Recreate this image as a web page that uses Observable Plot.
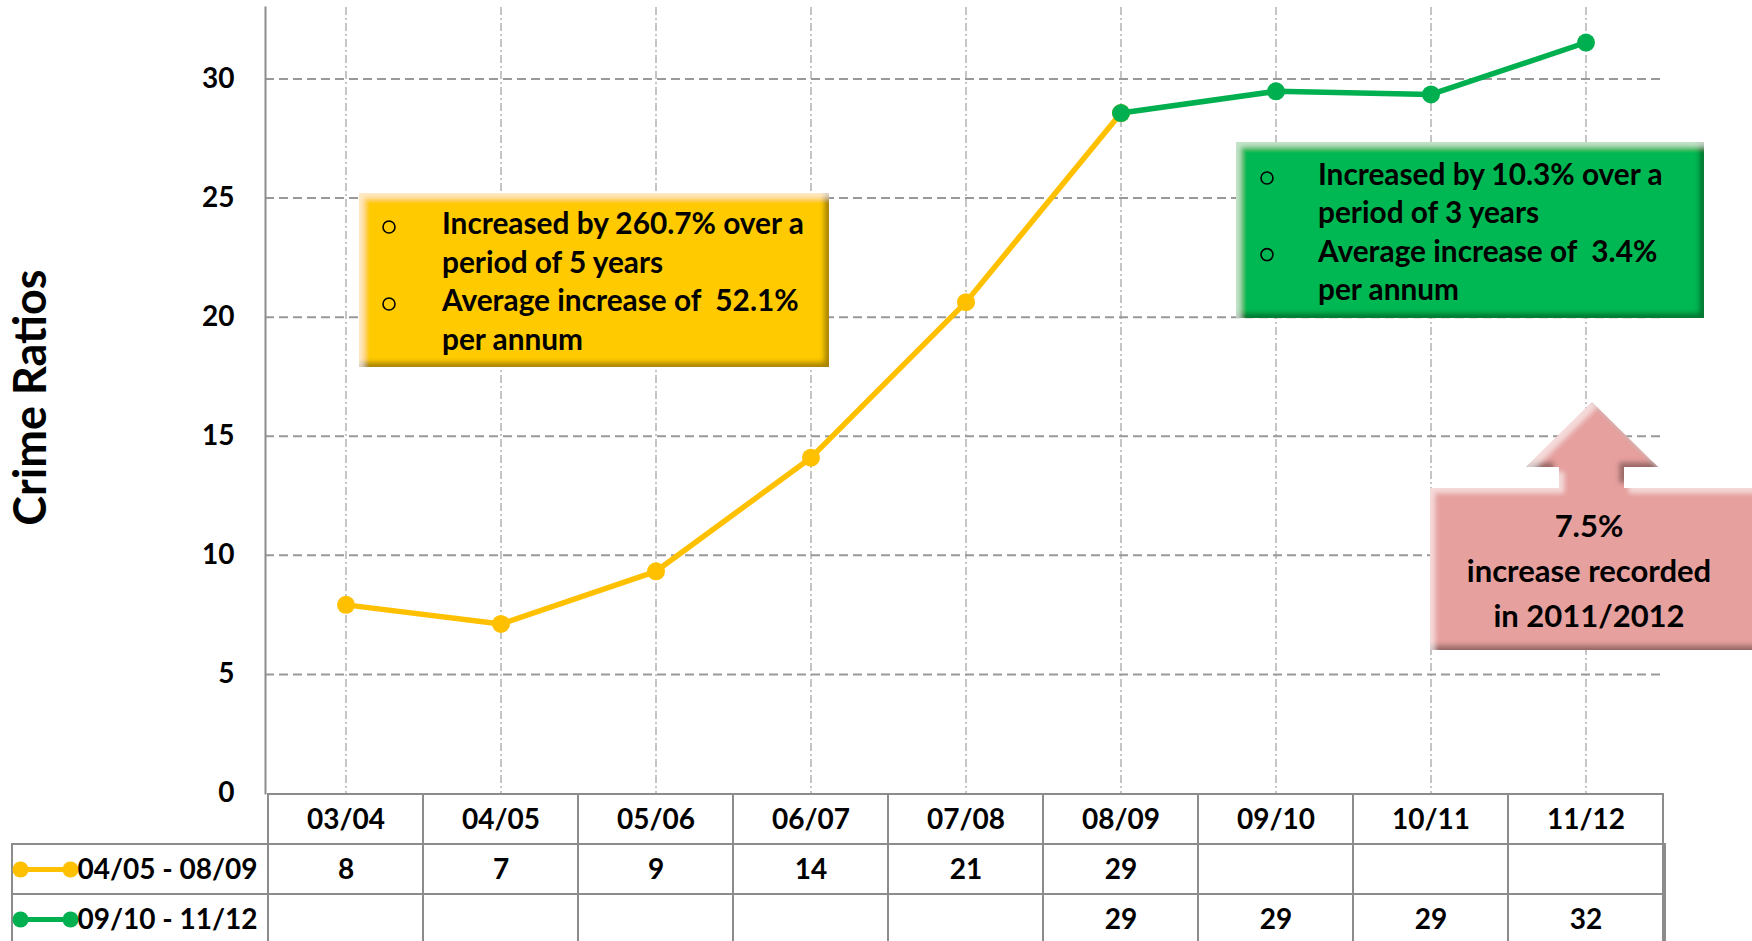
<!DOCTYPE html>
<html><head><meta charset="utf-8">
<script src="https://cdn.jsdelivr.net/npm/d3@7"></script>
<script src="https://cdn.jsdelivr.net/npm/@observablehq/plot@0.6"></script>
<style>
html,body{margin:0;padding:0;background:#fff;}
#wrap{position:relative;width:1752px;height:941px;overflow:hidden;background:#fff;font-family:Lato,sans-serif;}
#chart,#table,#notes{position:absolute;left:0;}
#chart{top:0;z-index:2}
#table{top:792px;z-index:1}
#notes{top:0;z-index:3;pointer-events:none;overflow:visible}
#notes text{white-space:pre;font-family:Lato,sans-serif;font-weight:700;fill:#000}
</style></head><body>
<div id="wrap"><div id="table"></div><div id="chart"></div><svg id="notes" width="1752" height="941"></svg></div>
<script>
// ---- data ----
const years = ["03/04","04/05","05/06","06/07","07/08","08/09","09/10","10/11","11/12"];
const seriesNames = ["04/05 - 08/09","09/10 - 11/12"];
const seriesColors = ["#FFC000","#00B050"];
const yellowYears = ["03/04","04/05","05/06","06/07","07/08","08/09"];
const yellowValues = [7.92, 7.12, 9.33, 14.1, 20.63, 28.57];
const greenYears = ["08/09","09/10","10/11","11/12"];
const greenValues = [28.57, 29.48, 29.35, 31.53];
const yellowTable = [8, 7, 9, 14, 21, 29];
const greenTable = [29, 29, 29, 32];
const yTicks = [0, 5, 10, 15, 20, 25, 30];
const yTitle = "Crime Ratios";
const yellowNote = ["Increased by 260.7% over a", "period of 5 years", "Average increase of  52.1%", "per annum"];
const greenNote = ["Increased by 10.3% over a", "period of 3 years", "Average increase of  3.4%", "per annum"];
const pinkNote = ["7.5%", "increase recorded", "in 2011/2012"];

// ---- derived tables ----
const yellowData = yellowYears.map((year, i) => ({year, value: yellowValues[i]}));
const greenData = greenYears.map((year, i) => ({year, value: greenValues[i]}));
const rowKeys = ["header", ...seriesNames];
const cells = [];
years.forEach(y => cells.push({year: y, row: "header", label: y}));
years.forEach(y => { const i = yellowYears.indexOf(y); cells.push({year: y, row: seriesNames[0], label: i >= 0 ? String(yellowTable[i]) : ""}); });
years.forEach(y => { const i = greenYears.indexOf(y); cells.push({year: y, row: seriesNames[1], label: i >= 0 ? String(greenTable[i]) : ""}); });
const legend = seriesNames.map((name, i) => ({name, color: seriesColors[i]}));

const FONT = "Lato, sans-serif";

// ---- main chart ----
const chart = Plot.plot({
  width: 1752, height: 793,
  marginLeft: 265, marginRight: 87, marginTop: 7, marginBottom: 0,
  style: {background: "transparent", overflow: "visible", fontFamily: FONT, fontWeight: 700, color: "#000"},
  x: {type: "band", domain: years, padding: 0, axis: null},
  y: {domain: [0, 33], axis: null},
  marks: [
    Plot.ruleX(years, {x: d => d, stroke: "#b3b3b3", strokeWidth: 1.5, strokeDasharray: "8,3,2,3"}),
    Plot.ruleY(yTicks.filter(t => t > 0), {y: d => d, stroke: "#999", strokeWidth: 2, strokeDasharray: "9,5"}),
    Plot.frame({anchor: "left", stroke: "#8c8c8c", strokeWidth: 2}),
    Plot.axisY({ticks: yTicks, tickSize: 0, tickPadding: 31, fontSize: 28, fontWeight: 700, label: null, fill: "#000"}),
    Plot.text([yTitle], {text: d => d, frameAnchor: "left", textAnchor: "middle", rotate: -90, dx: -234, dy: -3, fontSize: 45, fontWeight: 700, fill: "#000"}),
    Plot.line(yellowData, {x: "year", y: "value", stroke: seriesColors[0], strokeWidth: 5.5}),
    Plot.dot(yellowData, {x: "year", y: "value", r: 9, fill: seriesColors[0]}),
    Plot.line(greenData, {x: "year", y: "value", stroke: seriesColors[1], strokeWidth: 5.5}),
    Plot.dot(greenData, {x: "year", y: "value", r: 9, fill: seriesColors[1]})
  ]
});
document.getElementById("chart").appendChild(chart);

// ---- data table below ----
const table = Plot.plot({
  width: 1752, height: 153,
  marginLeft: 265, marginRight: 87, marginTop: 1, marginBottom: 0,
  style: {background: "transparent", overflow: "visible", fontFamily: FONT, fontWeight: 700, color: "#000"},
  x: {type: "band", domain: years, padding: 0, axis: null},
  y: {type: "band", domain: rowKeys, padding: 0, axis: null},
  color: {type: "identity"},
  marks: [
    Plot.cell(cells, {x: "year", y: "row", fill: "white", stroke: "#8c8c8c", strokeWidth: 2}),
    Plot.cell(seriesNames, {y: d => d, fill: "none", stroke: "#8c8c8c", strokeWidth: 2, insetLeft: -253}),
    Plot.text(cells, {x: "year", y: "row", text: "label", dy: 1, fontSize: 28, fontWeight: 700, fill: "#000"}),
    Plot.ruleY(legend, {y: "name", stroke: "color", strokeWidth: 5, insetLeft: -245, insetRight: 1595}),
    Plot.dot(legend, {y: "name", frameAnchor: "left", dx: -245, r: 8, fill: "color"}),
    Plot.dot(legend, {y: "name", frameAnchor: "left", dx: -195, r: 8, fill: "color"}),
    Plot.text(legend, {y: "name", text: "name", frameAnchor: "left", dx: -188, dy: 1, textAnchor: "start", fontSize: 28, fontWeight: 700, fill: "#000"})
  ]
});
document.getElementById("table").appendChild(table);

// ---- annotations ----
const svg = d3.select("#notes");
const defs = svg.append("defs");
const f = defs.append("filter").attr("id", "bevel").attr("x", "-5%").attr("y", "-5%").attr("width", "110%").attr("height", "110%");
f.append("feGaussianBlur").attr("in", "SourceAlpha").attr("stdDeviation", 2.5).attr("result", "b");
f.append("feOffset").attr("in", "b").attr("dx", -5).attr("dy", -5).attr("result", "bo");
f.append("feComposite").attr("in", "SourceAlpha").attr("in2", "bo").attr("operator", "arithmetic").attr("k2", 1).attr("k3", -1).attr("result", "darkA");
f.append("feFlood").attr("flood-color", "#000").attr("flood-opacity", 0.6).attr("result", "dc");
f.append("feComposite").attr("in", "dc").attr("in2", "darkA").attr("operator", "in").attr("result", "dark");
f.append("feOffset").attr("in", "b").attr("dx", 5).attr("dy", 5).attr("result", "bo2");
f.append("feComposite").attr("in", "SourceAlpha").attr("in2", "bo2").attr("operator", "arithmetic").attr("k2", 1).attr("k3", -1).attr("result", "lightA");
f.append("feFlood").attr("flood-color", "#fff").attr("flood-opacity", 0.55).attr("result", "lc");
f.append("feComposite").attr("in", "lc").attr("in2", "lightA").attr("operator", "in").attr("result", "light");
const m = f.append("feMerge");
m.append("feMergeNode").attr("in", "SourceGraphic");
m.append("feMergeNode").attr("in", "dark");
m.append("feMergeNode").attr("in", "light");

function noteBox(x, y, w, h, fill, lines, textX, base0, step, bulletX) {
  svg.append("rect").attr("x", x).attr("y", y).attr("width", w).attr("height", h).attr("fill", fill).attr("filter", "url(#bevel)");
  lines.forEach((t, i) => {
    const by = base0 + i * step;
    svg.append("text").attr("x", textX).attr("y", by).attr("font-size", 29.8).text(t);
    if (i % 2 === 0) svg.append("circle").attr("cx", bulletX).attr("cy", by - 7).attr("r", 6).attr("fill", "none").attr("stroke", "#000").attr("stroke-width", 1.6);
  });
}
noteBox(359, 193, 470, 174, "#FFCB05", yellowNote, 442, 234, 38.5, 389);
noteBox(1236, 142, 468, 176, "#05B852", greenNote, 1318, 185, 38.3, 1267);

// up-arrow callout
const arrow = [[1430,488],[1559,488],[1559,467],[1526,467],[1592,402],[1658,467],[1624,467],[1624,488],[1765,488],[1765,650],[1430,650]];
svg.append("path").attr("d", "M" + arrow.map(p => p.join(",")).join("L") + "Z").attr("fill", "#E6A09E").attr("filter", "url(#bevel)");
pinkNote.forEach((t, i) => {
  svg.append("text").attr("x", 1589).attr("y", 537 + i * 45).attr("font-size", 31).attr("text-anchor", "middle").text(t);
});
</script>
</body></html>
